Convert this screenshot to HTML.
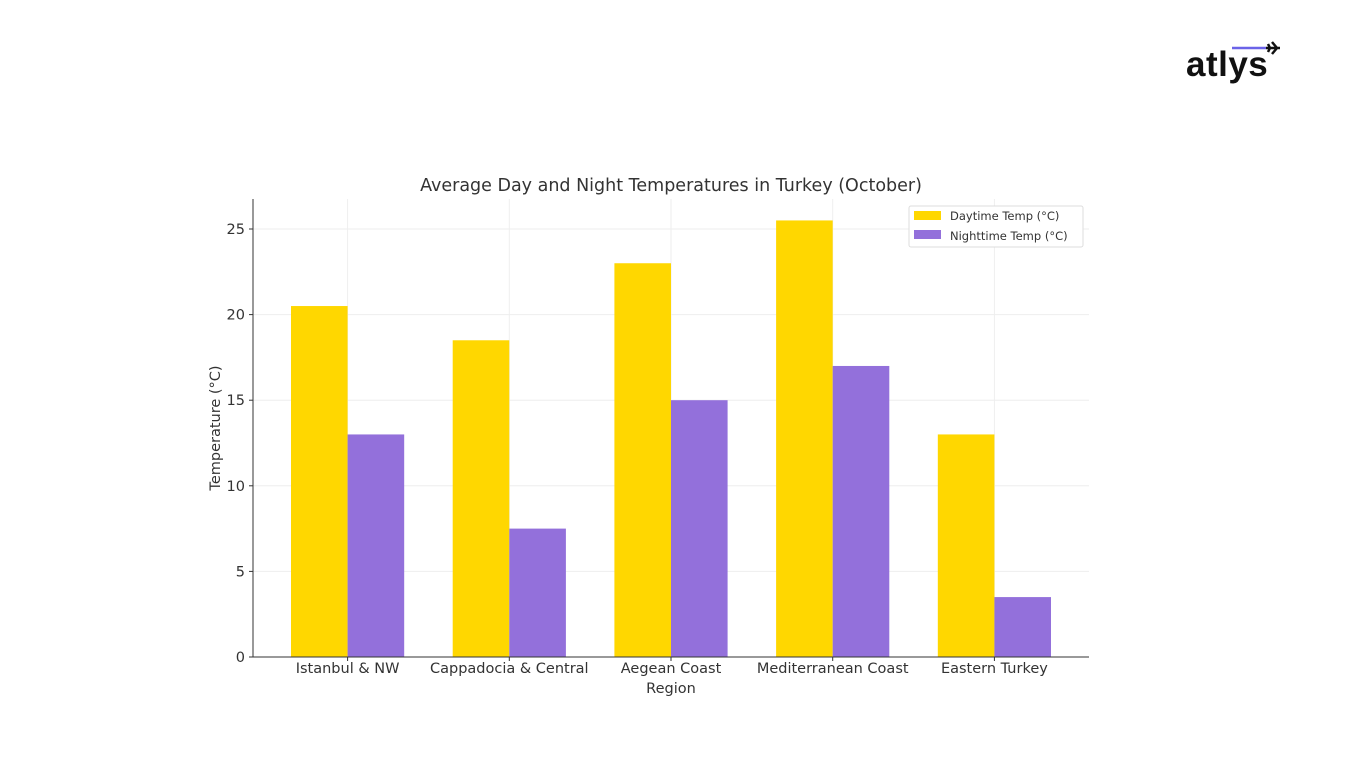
<!DOCTYPE html>
<html><head><meta charset="utf-8"><style>
body{margin:0;width:1366px;height:768px;background:#fff;overflow:hidden;font-family:"Liberation Sans","DejaVu Sans",sans-serif}
svg{position:absolute;left:0;top:0}
</style></head><body>
<svg width="1366" height="768" font-family="DejaVu Sans, Liberation Sans, sans-serif">
<g>
<text x="1186" y="76" font-size="35" font-weight="bold" fill="#111" font-family="Liberation Sans, sans-serif" letter-spacing="0.5">atlys</text>
<line x1="1232" y1="48" x2="1266" y2="48" stroke="#6b63e8" stroke-width="2.5"/>
<path d="M1266 48 l14 0 M1272 42 l5 6 l-5 6 M1268 44 l2 4 l-2 4" stroke="#111" stroke-width="2.5" fill="none"/>
</g>
<text x="671" y="191" font-size="17.5" fill="#333" text-anchor="middle">Average Day and Night Temperatures in Turkey (October)</text>
<g id="grid"></g>
<g id="bars"></g>
<g id="axes"></g>
<text x="671" y="693" font-size="14.5" fill="#333" text-anchor="middle">Region</text>
<text transform="translate(220,428) rotate(-90)" font-size="14.5" fill="#333" text-anchor="middle">Temperature (°C)</text>
<g>
<rect x="909" y="206" width="174" height="41" fill="#fff" stroke="#ddd" rx="2"/>
<rect x="914" y="211" width="27" height="9" fill="#ffd700"/>
<text x="950" y="220" font-size="11.5" fill="#333">Daytime Temp (°C)</text>
<rect x="914" y="230" width="27" height="9" fill="#9370db"/>
<text x="950" y="240" font-size="11.5" fill="#333">Nighttime Temp (°C)</text>
</g>
</svg>
<script>
const categories=["Istanbul & NW","Cappadocia & Central","Aegean Coast","Mediterranean Coast","Eastern Turkey"];
const dayTemps=[20.5,18.5,23,25.5,13];
const nightTemps=[13,7.5,15,17,3.5];
const yTicks=[0,5,10,15,20,25];
const NS="http://www.w3.org/2000/svg";
const L=253,R=1089,T=199,B=657;
const xmin=-0.585,xmax=4.585;
function xs(v){return L+(v-xmin)/(xmax-xmin)*(R-L);}
function ys(v){return B-v*(B-229)/25;}
function mk(tag,a,parent){const e=document.createElementNS(NS,tag);for(const k in a)e.setAttribute(k,a[k]);document.getElementById(parent).appendChild(e);return e;}
yTicks.forEach(t=>{
 const g=mk('line',{x1:L,x2:R,y1:ys(t),y2:ys(t),stroke:'#eee','stroke-width':1},'grid');
 
 
 const tk=mk('line',{x1:L-4,x2:L,y1:ys(t),y2:ys(t),stroke:'#333'},'axes');
 
 
 const tx=mk('text',{x:L-8,y:ys(t)+5,'font-size':14.5,fill:'#333','text-anchor':'end'},'axes');
 tx.textContent=t;
 
 
});
categories.forEach((c,i)=>{
 const g=mk('line',{x1:xs(i),x2:xs(i),y1:T,y2:B,stroke:'#eee'},'grid');
 
 
 const w=0.35;
 const b1=mk('rect',{x:xs(i-w),y:ys(dayTemps[i]),width:xs(i)-xs(i-w),height:B-ys(dayTemps[i]),fill:'#ffd700'},'bars');
 
 
 const b2=mk('rect',{x:xs(i),y:ys(nightTemps[i]),width:xs(i+w)-xs(i),height:B-ys(nightTemps[i]),fill:'#9370db'},'bars');
 
 
 const tk=mk('line',{x1:xs(i),x2:xs(i),y1:B,y2:B+4,stroke:'#333'},'axes');
 
 
 const tx=mk('text',{x:xs(i),y:B+16,'font-size':14.5,fill:'#333','text-anchor':'middle'},'axes');
 tx.textContent=c;
 
 
});
const ax=mk('path',{d:`M${L} ${T} V${B} H${R}`,stroke:'#333',fill:'none','stroke-width':1},'axes');


</script>
</body></html>
